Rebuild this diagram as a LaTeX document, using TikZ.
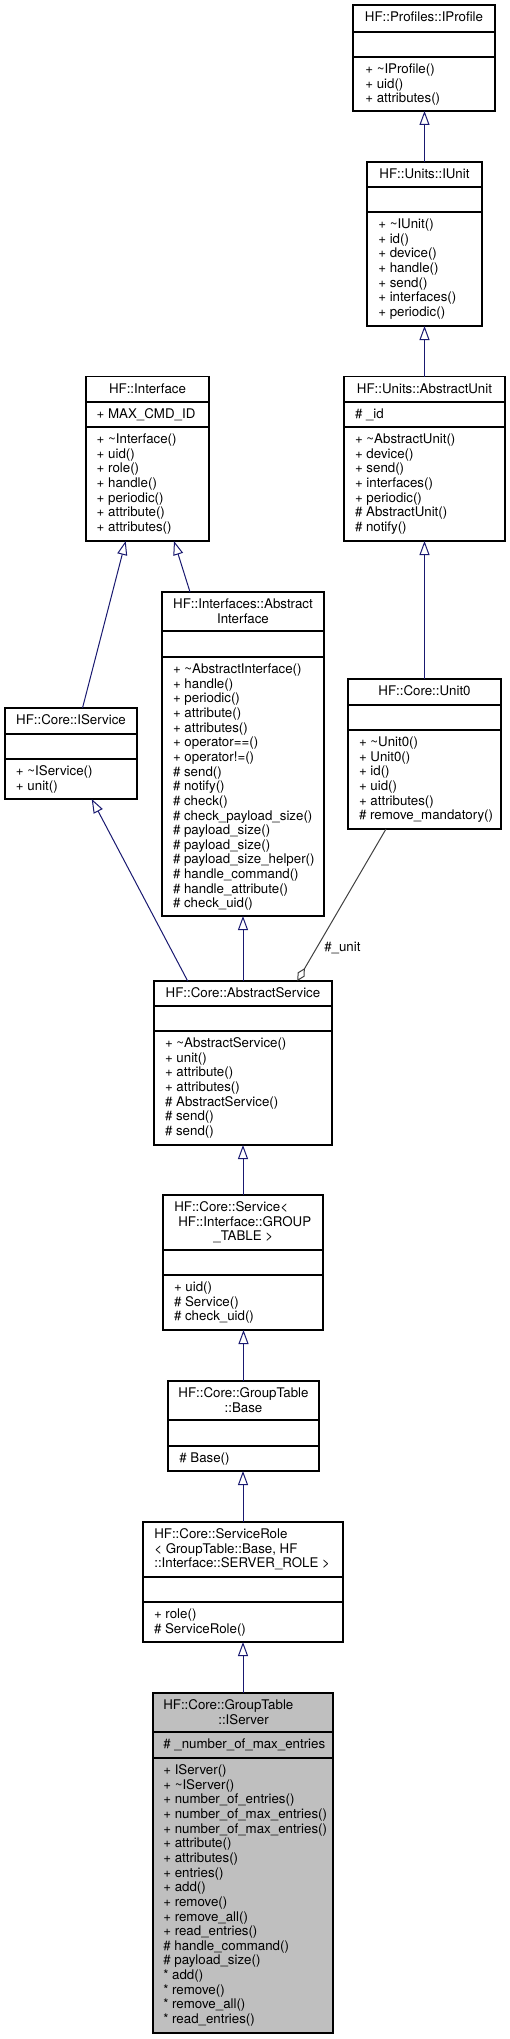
\documentclass[tikz,border=0pt]{standalone}
\usepackage{fontspec}
\setmainfont{TeX Gyre Heros}
\usetikzlibrary{arrows.meta}
\definecolor{edgeblue}{RGB}{25,25,112}
\definecolor{agggray}{RGB}{64,64,64}
\definecolor{curfill}{RGB}{191,191,191}
\tikzset{
 umlbox/.style={draw=black, line width=1.1pt, inner sep=0pt, outer sep=0pt, anchor=north west},
 sepline/.style={draw=black, line width=1.1pt},
 txt/.style={inner sep=0pt, outer sep=0pt, font=\fontsize{13.3}{14.65}\selectfont},
 inh/.style={draw=edgeblue, line width=1pt, -{Triangle[open,length=14pt,width=10pt]}},
 agg/.style={draw=agggray, line width=1pt, -{Diamond[open,length=15pt,width=8pt]}},
}
% name, left, right, top, sep1, sep2, bottom, fill
\newcommand\umlbox[8]{%
 \node[umlbox, fill=#8, minimum width={(#3-#2)*1pt}, minimum height={(#7-#4)*1pt}] (#1) at (#2,#4) {};
 \draw[sepline] (#2,#5) -- (#3,#5) (#2,#6) -- (#3,#6);
}
% name, anchor, x, region top, list
\newcommand\members[5]{%
 \foreach \t [count=\i from 0] in {#5} {\node[txt, anchor=#2] (#1-\i) at ({#3},{#4+16.5+14.65*\i}) {\t};}%
}
\newcommand\tl{\textasciitilde}
\begin{document}
\begin{tikzpicture}[x=1pt,y=-1pt]
\useasboundingbox (0,0) rectangle (510,2039);

% HF::Profiles::IProfile
\umlbox{iprofile}{353}{495}{5}{32}{57}{111}{white}
\members{iprofile-t}{base}{424}{5}{HF::Profiles::IProfile}
\members{iprofile-m}{base west}{365.3}{57}{+ \tl IProfile(),+ uid(),+ attributes()}

% HF::Units::IUnit
\umlbox{iunit}{367}{482}{162}{187}{212}{326}{white}
\members{iunit-t}{base}{424.5}{162}{HF::Units::IUnit}
\members{iunit-m}{base west}{378.3}{212}{+ \tl IUnit(),+ id(),+ device(),+ handle(),+ send(),+ interfaces(),+ periodic()}

% HF::Units::AbstractUnit
\umlbox{aunit}{344}{505}{376.5}{402}{427}{541}{white}
\members{aunit-t}{base}{424.5}{376.5}{HF::Units::AbstractUnit}
\members{aunit-a}{base west}{355}{402}{\# \_id}
\members{aunit-m}{base west}{355}{427}{+ \tl AbstractUnit(),+ device(),+ send(),+ interfaces(),+ periodic(),\# AbstractUnit(),\# notify()}

% HF::Interface
\umlbox{interface}{86}{209}{376.5}{402}{427}{541}{white}
\members{interface-t}{base}{147.5}{376.5}{HF::Interface}
\members{interface-a}{base west}{96.7}{402}{+ MAX\_CMD\_ID}
\members{interface-m}{base west}{96.7}{427}{+ \tl Interface(),+ uid(),+ role(),+ handle(),+ periodic(),+ attribute(),+ attributes()}

% HF::Interfaces::AbstractInterface
\umlbox{ai}{162}{324}{592}{631}{657}{916}{white}
\members{ai-t}{base}{243}{592}{HF::Interfaces::Abstract,Interface}
\members{ai-m}{base west}{173}{657}{+ \tl AbstractInterface(),+ handle(),+ periodic(),+ attribute(),+ attributes(),+ operator==(),+ operator!=(),\# send(),\# notify(),\# check(),\# check\_payload\_size(),\# payload\_size(),\# payload\_size(),\# payload\_size\_helper(),\# handle\_command(),\# handle\_attribute(),\# check\_uid()}

% HF::Core::IService
\umlbox{iservice}{5}{137}{708}{734}{759}{799}{white}
\members{iservice-t}{base}{71}{708}{HF::Core::IService}
\members{iservice-m}{base west}{16}{759}{+ \tl IService(),+ unit()}

% HF::Core::Unit0
\umlbox{unit0}{348}{501}{679}{705}{730}{829}{white}
\members{unit0-t}{base}{424.5}{679}{HF::Core::Unit0}
\members{unit0-m}{base west}{359}{730}{+ \tl Unit0(),+ Unit0(),+ id(),+ uid(),+ attributes(),\# remove\_mandatory()}

% HF::Core::AbstractService
\umlbox{as}{154}{332}{981}{1006}{1031}{1145}{white}
\members{as-t}{base}{243}{981}{HF::Core::AbstractService}
\members{as-m}{base west}{165}{1031}{+ \tl AbstractService(),+ unit(),+ attribute(),+ attributes(),\# AbstractService(),\# send(),\# send()}

% HF::Core::Service< HF::Interface::GROUP_TABLE >
\umlbox{service}{163}{323}{1195}{1250}{1275}{1330}{white}
\members{service-t}{base west}{174.3}{1195}{HF::Core::Service<}
\members{service-u}{base west}{178.3}{1209.65}{HF::Interface::GROUP}
\members{service-v}{base}{243.3}{1224.3}{\_TABLE >}
\members{service-m}{base west}{174}{1275}{+ uid(),\# Service(),\# check\_uid()}

% HF::Core::GroupTable::Base
\umlbox{base}{168}{319}{1381}{1420}{1446}{1471}{white}
\members{base-t}{base}{243.5}{1381}{HF::Core::GroupTable,::Base}
\members{base-m}{base west}{179.3}{1446}{\# Base()}

% HF::Core::ServiceRole
\umlbox{srole}{143}{343}{1522}{1577}{1602}{1642}{white}
\members{srole-t}{base west}{154.3}{1522}{HF::Core::ServiceRole,{< GroupTable::Base, HF},::Interface::SERVER\_ROLE >}
\members{srole-m}{base west}{154}{1602}{+ role(),\# ServiceRole()}

% HF::Core::GroupTable::IServer
\umlbox{iserver}{153}{333}{1693}{1732}{1758}{2033}{curfill}
\members{iserver-t}{base west}{163.3}{1693}{HF::Core::GroupTable}
\members{iserver-u}{base}{243.5}{1707.65}{::IServer}
\members{iserver-a}{base west}{163.3}{1732}{\# \_number\_of\_max\_entries}
\members{iserver-m}{base west}{163.3}{1758}{+ IServer(),+ \tl IServer(),+ number\_of\_entries(),+ number\_of\_max\_entries(),+ number\_of\_max\_entries(),+ attribute(),+ attributes(),+ entries(),+ add(),+ remove(),+ remove\_all(),+ read\_entries(),\# handle\_command(),\# payload\_size(),* add(),* remove(),* remove\_all(),* read\_entries()}

% connectors
\draw[inh] (iunit.north) -- (iunit.north |- iprofile.south);
\draw[inh] (aunit.north) -- (aunit.north |- iunit.south);
\draw[inh] (unit0.north) -- (unit0.north |- aunit.south);
\draw[inh] ([xshift=11.5pt]iservice.north) -- ([xshift=-21.8pt]interface.south);
\draw[inh] ([xshift=-53pt]ai.north) -- ([xshift=26.5pt]interface.south);
\draw[inh] ([xshift=-55.3pt]as.north) -- ([xshift=20.7pt]iservice.south);
\draw[inh] (as.north) -- (as.north |- ai.south);
\draw[agg] ([xshift=-38.5pt]unit0.south) -- ([xshift=54.3pt]as.north);
\node[txt, anchor=base west] (unitlbl) at (324.3,951.7) {\#\_unit};
\draw[inh] (service.north) -- (service.north |- as.south);
\draw[inh] (base.north) -- (base.north |- service.south);
\draw[inh] (srole.north) -- (srole.north |- base.south);
\draw[inh] (iserver.north) -- (iserver.north |- srole.south);
\end{tikzpicture}
\end{document}
